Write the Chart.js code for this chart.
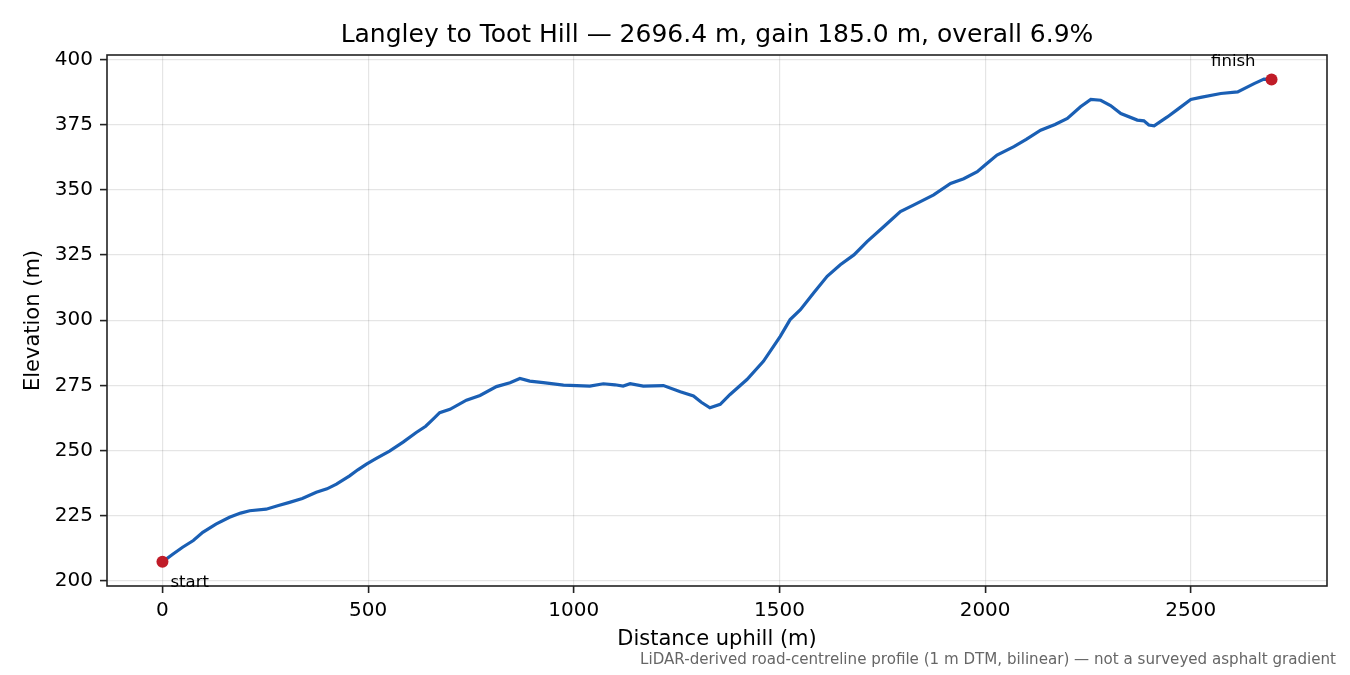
<!DOCTYPE html>
<html>
<head>
<meta charset="utf-8">
<title>Langley to Toot Hill profile</title>
<script src="https://cdn.jsdelivr.net/npm/chart.js@4.4.1/dist/chart.umd.min.js"></script>
<style>
  html, body { margin: 0; padding: 0; background: #fff; }
  #wrap { width: 1350px; height: 675px; }
</style>
</head>
<body>
<div id="wrap"><canvas id="profile" width="1350" height="675"></canvas></div>
<script>
// distance along the road (m) and elevation (m)
const distance = [
  0, 25, 49, 75, 98, 130, 163, 190, 212, 252, 280, 309, 340, 374, 400, 423,
  455, 475, 496, 520, 552, 585, 617, 640, 658, 674, 699, 739, 772, 812, 845,
  869, 893, 926, 975, 1039, 1072, 1100, 1120, 1137, 1169, 1218, 1259, 1291,
  1310, 1331, 1356, 1380, 1421, 1461, 1502, 1526, 1551, 1583, 1616, 1648,
  1681, 1713, 1754, 1794, 1827, 1875, 1916, 1948, 1981, 2000, 2029, 2070,
  2100, 2135, 2170, 2200, 2232, 2257, 2281, 2305, 2330, 2370, 2386, 2398,
  2411, 2443, 2468, 2500, 2524, 2573, 2614, 2654, 2678, 2696.4
];
const elevation = [
  207.3, 210.2, 212.9, 215.5, 218.6, 221.8, 224.4, 226.0, 226.9, 227.5, 228.8,
  230.1, 231.6, 234.0, 235.3, 237.1, 240.3, 242.6, 244.8, 247.0, 249.8, 253.2,
  256.9, 259.3, 262.0, 264.5, 265.8, 269.3, 271.1, 274.5, 276.0, 277.6, 276.6,
  276.0, 275.1, 274.7, 275.6, 275.2, 274.7, 275.6, 274.7, 274.9, 272.5, 270.9,
  268.5, 266.4, 267.7, 271.5, 277.2, 284.2, 293.8, 300.2, 304.0, 310.4, 316.8,
  321.2, 325.0, 330.1, 335.9, 341.6, 344.2, 348.0, 352.4, 354.2, 356.9, 359.5,
  363.3, 366.5, 369.3, 372.8, 375.0, 377.3, 381.8, 384.6, 384.3, 382.3, 379.2,
  376.7, 376.4, 374.8, 374.5, 377.9, 380.8, 384.6, 385.4, 386.9, 387.5, 390.7,
  392.4, 392.3
];
const endLabels = ['start', 'finish'];
const xTicks = [0, 500, 1000, 1500, 2000, 2500];
const yTicks = [200, 225, 250, 275, 300, 325, 350, 375, 400];

const titleText = 'Langley to Toot Hill \u2014 2696.4 m, gain 185.0 m, overall 6.9%';
const xLabel = 'Distance uphill (m)';
const yLabel = 'Elevation (m)';
const footnote = 'LiDAR-derived road-centreline profile (1 m DTM, bilinear) \u2014 not a surveyed asphalt gradient';

const FONT = '"DejaVu Sans", "Liberation Sans", sans-serif';

// matplotlib-like 5% margins round the data
const xSpan = distance[distance.length - 1] - distance[0];
const ySpan = Math.max(...elevation) - Math.min(...elevation);
const xMin = distance[0] - xSpan * 0.05, xMax = distance[distance.length - 1] + xSpan * 0.05;
const yMin = Math.min(...elevation) - ySpan * 0.05, yMax = Math.max(...elevation) + ySpan * 0.05;

const profilePts = distance.map((d, i) => ({ x: d, y: elevation[i] }));
const last = distance.length - 1;
const endPts = [
  { x: distance[0], y: elevation[0] },
  { x: distance[last], y: elevation[last] }
];

// title, axis labels, spines, start/finish notes, footnote
const decor = {
  id: 'decor',
  afterDraw(chart) {
    const { ctx, chartArea: a, scales } = chart;
    ctx.save();

    ctx.strokeStyle = '#222';
    ctx.lineWidth = 1.6;
    ctx.strokeRect(a.left, a.top, a.right - a.left, a.bottom - a.top);

    ctx.fillStyle = '#000';
    ctx.textAlign = 'center';
    ctx.textBaseline = 'alphabetic';
    ctx.font = '25px ' + FONT;
    ctx.fillText(titleText, (a.left + a.right) / 2, 42);

    ctx.font = '21px ' + FONT;
    ctx.textBaseline = 'middle';
    ctx.fillText(xLabel, (a.left + a.right) / 2, 640);
    ctx.save();
    ctx.translate(34, (a.top + a.bottom) / 2);
    ctx.rotate(-Math.PI / 2);
    ctx.fillText(yLabel, 0, 0);
    ctx.restore();

    ctx.font = '16.5px ' + FONT;
    ctx.textBaseline = 'alphabetic';
    const p0x = scales.x.getPixelForValue(endPts[0].x), p0y = scales.y.getPixelForValue(endPts[0].y);
    ctx.textAlign = 'left';
    ctx.fillText(endLabels[0], p0x + 8, p0y + 25);
    const p1x = scales.x.getPixelForValue(endPts[1].x), p1y = scales.y.getPixelForValue(endPts[1].y);
    ctx.textAlign = 'right';
    ctx.fillText(endLabels[1], p1x - 16, p1y - 13);

    ctx.font = '15.1px ' + FONT;
    ctx.fillStyle = '#666';
    ctx.textAlign = 'right';
    ctx.fillText(footnote, 1336, 664);

    ctx.restore();
  }
};

function fixedTicks(values) {
  return scale => { scale.ticks = values.map(v => ({ value: v })); };
}

const gridStyle = {
  color: 'rgba(0,0,0,0.1)',
  lineWidth: 1.2,
  tickColor: '#222',
  tickWidth: 1.6,
  tickLength: 7
};

new Chart(document.getElementById('profile').getContext('2d'), {
  type: 'line',
  data: {
    datasets: [
      {
        label: 'profile',
        data: profilePts,
        borderColor: '#1a5fb4',
        borderWidth: 3.2,
        pointRadius: 0,
        tension: 0,
        fill: false,
        order: 2
      },
      {
        label: 'ends',
        data: endPts,
        showLine: false,
        pointRadius: 6,
        pointBackgroundColor: '#c01c28',
        pointBorderColor: '#c01c28',
        pointBorderWidth: 0,
        order: 1
      }
    ]
  },
  options: {
    responsive: false,
    animation: false,
    devicePixelRatio: 1,
    layout: { padding: { left: 0, right: 23, top: 55, bottom: 0 } },
    plugins: {
      legend: { display: false },
      title: { display: false },
      tooltip: { enabled: false }
    },
    scales: {
      x: {
        type: 'linear',
        min: xMin,
        max: xMax,
        afterBuildTicks: fixedTicks(xTicks),
        afterFit: s => { s.height = 89; },
        grid: gridStyle,
        border: { display: false },
        ticks: {
          padding: 6, color: '#000', font: { family: FONT, size: 20 }, maxRotation: 0,
          callback: v => String(v)
        }
      },
      y: {
        type: 'linear',
        min: yMin,
        max: yMax,
        afterBuildTicks: fixedTicks(yTicks),
        afterFit: s => { s.width = 107; },
        grid: gridStyle,
        border: { display: false },
        ticks: {
          padding: 7, color: '#000', font: { family: FONT, size: 20 },
          callback: v => String(v)
        }
      }
    }
  },
  plugins: [decor]
});
</script>
</body>
</html>
